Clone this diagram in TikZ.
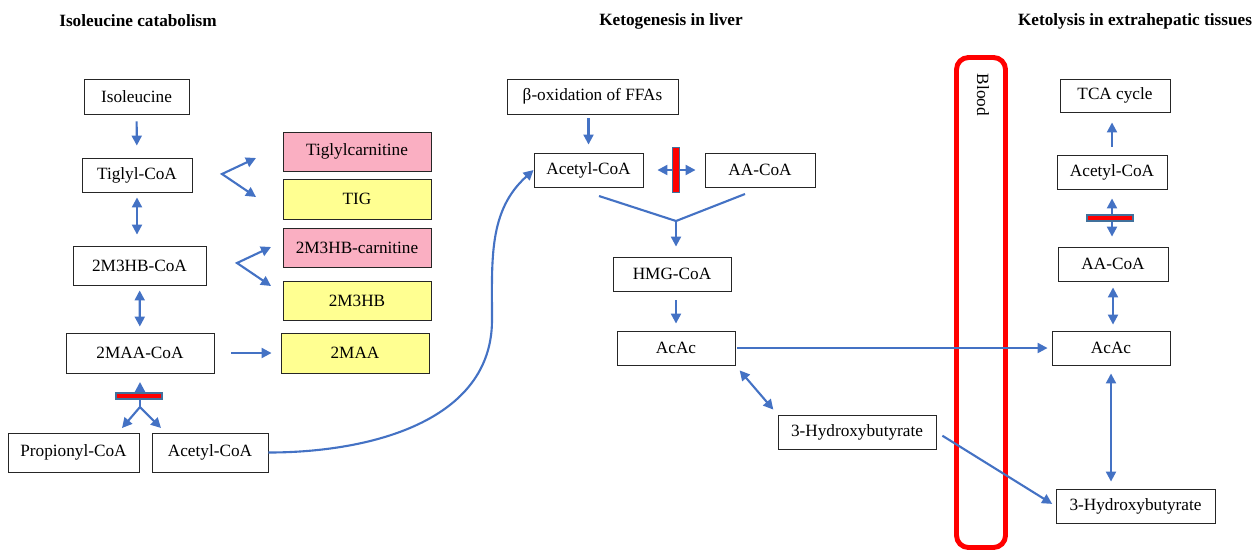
\documentclass[tikz,border=0pt]{standalone}
\usepackage{fontspec}
\setmainfont{Liberation Serif}
\usetikzlibrary{arrows.meta}
\definecolor{arrblue}{RGB}{68,114,196}
\definecolor{carpink}{RGB}{250,175,194}
\definecolor{acidyellow}{RGB}{255,255,145}
\definecolor{barrim}{RGB}{65,113,156}
\begin{document}
\begin{tikzpicture}[x=0.2mm, y=-0.2mm, font=\fontsize{9.8}{11}\selectfont,
    every node/.style={rectangle, align=center, inner sep=0pt},
    box/.style={draw=black!85, line width=0.5pt, fill=white, minimum height=6.8mm},
    carbox/.style={box, fill=carpink, minimum width=29.6mm, minimum height=7.8mm},
    acidbox/.style={box, fill=acidyellow, minimum width=29.6mm, minimum height=7.8mm},
    title/.style={font=\fontsize{9.8}{11}\selectfont\bfseries},
    arr/.style={arrblue, line width=1.2pt, -{Triangle[length=2mm, width=2mm]}},
    darr/.style={arr, {Triangle[length=2mm, width=2mm]}-{Triangle[length=2mm, width=2mm]}},
    link/.style={arrblue, line width=1.2pt},
    blocker/.style={draw=barrim, fill=red, line width=0.8pt}]
        \useasboundingbox (0,0) rectangle (1255,553);
        \node[title] (isotitle) at (138,21) {Isoleucine catabolism};
        \node[title] (ketogen) at (671,21) {Ketogenesis in liver};
        \node[title] (ketolys) at (1135,21) {Ketolysis in extrahepatic tissues};

        \node[draw=red, line width=2.8pt, rounded corners=2.4mm, minimum width=9.8mm, minimum height=98mm] (blood) at (981,302.5) {};
        \node[rotate=-90] (bloodlbl) at (983,95) {Blood};

        \node[box, minimum width=21mm, minimum height=7mm] (iso) at (136.5,96.5) {Isoleucine};
        \node[box, minimum width=22mm] (tig) at (137,175) {Tiglyl-CoA};
        \node[box, minimum width=26.6mm, minimum height=7.8mm] (mhb) at (139.5,265.5) {2M3HB-CoA};
        \node[box, minimum width=29.6mm, minimum height=8mm] (maa) at (140,353) {2MAA-CoA};
        \node[box, minimum width=26.2mm, minimum height=7.8mm] (prop) at (73.5,452.5) {Propionyl-CoA};
        \node[box, minimum width=23.2mm, minimum height=7.8mm] (acoaL) at (210,452.5) {Acetyl-CoA};
        \node[carbox] (tigcar) at (357,151.5) {Tiglylcarnitine};
        \node[acidbox, minimum height=8mm] (tigy) at (357,199) {TIG};
        \node[carbox] (mhbcar) at (357,247.5) {2M3HB-carnitine};
        \node[acidbox] (mhby) at (357,300.5) {2M3HB};
        \node[acidbox, minimum height=8mm] (maay) at (355,353) {2MAA};

        \node[box, minimum width=34.2mm, minimum height=7mm] (betaox) at (592.5,96.5) {β-oxidation of FFAs};
        \node[box, minimum width=21.8mm] (acoaM) at (588.5,170) {Acetyl-CoA};
        \node[box, minimum width=22mm] (aacoaM) at (760,170) {AA-CoA};
        \node[box, minimum width=23.6mm] (hmg) at (672,274) {HMG-CoA};
        \node[box, minimum width=23.6mm] (acacM) at (676,348) {AcAc};
        \node[box, minimum width=31.6mm] (hbM) at (857,432) {3-Hydroxybutyrate};

        \node[box, minimum width=22mm, minimum height=6.6mm] (tca) at (1115,95.5) {TCA cycle};
        \node[box, minimum width=22mm] (acoaR) at (1112,172) {Acetyl-CoA};
        \node[box, minimum width=22mm] (aacoaR) at (1113,264) {AA-CoA};
        \node[box, minimum width=23.6mm] (acacR) at (1111,348) {AcAc};
        \node[box, minimum width=31.8mm] (hbR) at (1135.5,506) {3-Hydroxybutyrate};

        \coordinate (tigfork) at (222,174);
        \coordinate (tigtoA) at (256,158);
        \coordinate (tigtoB) at (256,197);
        \coordinate (mhbfork) at (237,263);
        \coordinate (mhbtoA) at (271,247);
        \coordinate (mhbtoB) at (271,286);
        \coordinate (maafork) at (140,407);
        \coordinate (maaup) at (140,382);
        \coordinate (proptip) at (122,428);
        \coordinate (acoatip) at (161,428);
        \coordinate (bend) at (492,320);
        \coordinate (vleft) at (599,196);
        \coordinate (vjoin) at (676,221);
        \coordinate (vright) at (745,194);

        \draw[arr, shorten <=1.4mm, shorten >=2.4mm] (iso) -- (tig);
        \draw[darr, shorten <=1mm, shorten >=2.2mm] (tig) -- (tig |- mhb.north);
        \draw[darr, shorten <=1mm, shorten >=1.2mm] (mhb) -- (maa);
        \draw[arr, shorten <=3.4mm, shorten >=1.8mm] (maa) -- (maay);
        \draw[darr] (tigtoA) -- (tigfork) -- (tigtoB);
        \draw[darr] (mhbtoA) -- (mhbfork) -- (mhbtoB);
        \draw[arr] (maafork) -- (maaup);
        \draw[darr] (proptip) -- (maafork) -- (acoatip);
        \node[blocker, minimum width=9.2mm, minimum height=1.2mm] (blockL) at (139,396) {};
        \draw[arr] (acoaL) to[out=0, in=-90] (bend) to[out=90, in=-138] (acoaM.west);

        \draw[arr, shorten <=0.8mm, shorten >=1.6mm] (acoaM |- betaox.south) -- (acoaM);
        \draw[darr, shorten <=2.8mm, shorten >=1.8mm] (acoaM) -- (aacoaM);
        \node[blocker, minimum width=1.3mm, minimum height=9mm] (blockM) at (676,170) {};
        \draw[link] (vleft) -- (vjoin) -- (vright);
        \draw[arr, shorten >=2mm] (vjoin) -- (vjoin |- hmg.north);
        \draw[arr, shorten <=1.8mm, shorten >=1.4mm] (acacM |- hmg.south) -- (acacM);
        \draw[arr, shorten <=0.4mm, shorten >=0.8mm] (acacM) -- (acacR);
        \draw[darr, shorten <=1.3mm, shorten >=1.3mm] (acacM.south east) -- (hbM.north west);
        \draw[arr, shorten <=1.4mm, shorten >=0.8mm] (hbM.east) -- (hbR.west);

        \draw[arr, shorten <=1.6mm, shorten >=2mm] (acoaR) -- (acoaR |- tca.south);
        \draw[darr, shorten <=1.8mm, shorten >=2mm] (acoaR) -- (acoaR |- aacoaR.north);
        \node[blocker, minimum width=9.2mm, minimum height=1.2mm] (blockR) at (1110,218) {};
        \draw[darr, shorten <=1.2mm, shorten >=1.2mm] (aacoaR) -- (aacoaR |- acacR.north);
        \draw[darr, shorten <=1.6mm, shorten >=1.4mm] (acacR) -- (acacR |- hbR.north);
      \end{tikzpicture}
\end{document}
